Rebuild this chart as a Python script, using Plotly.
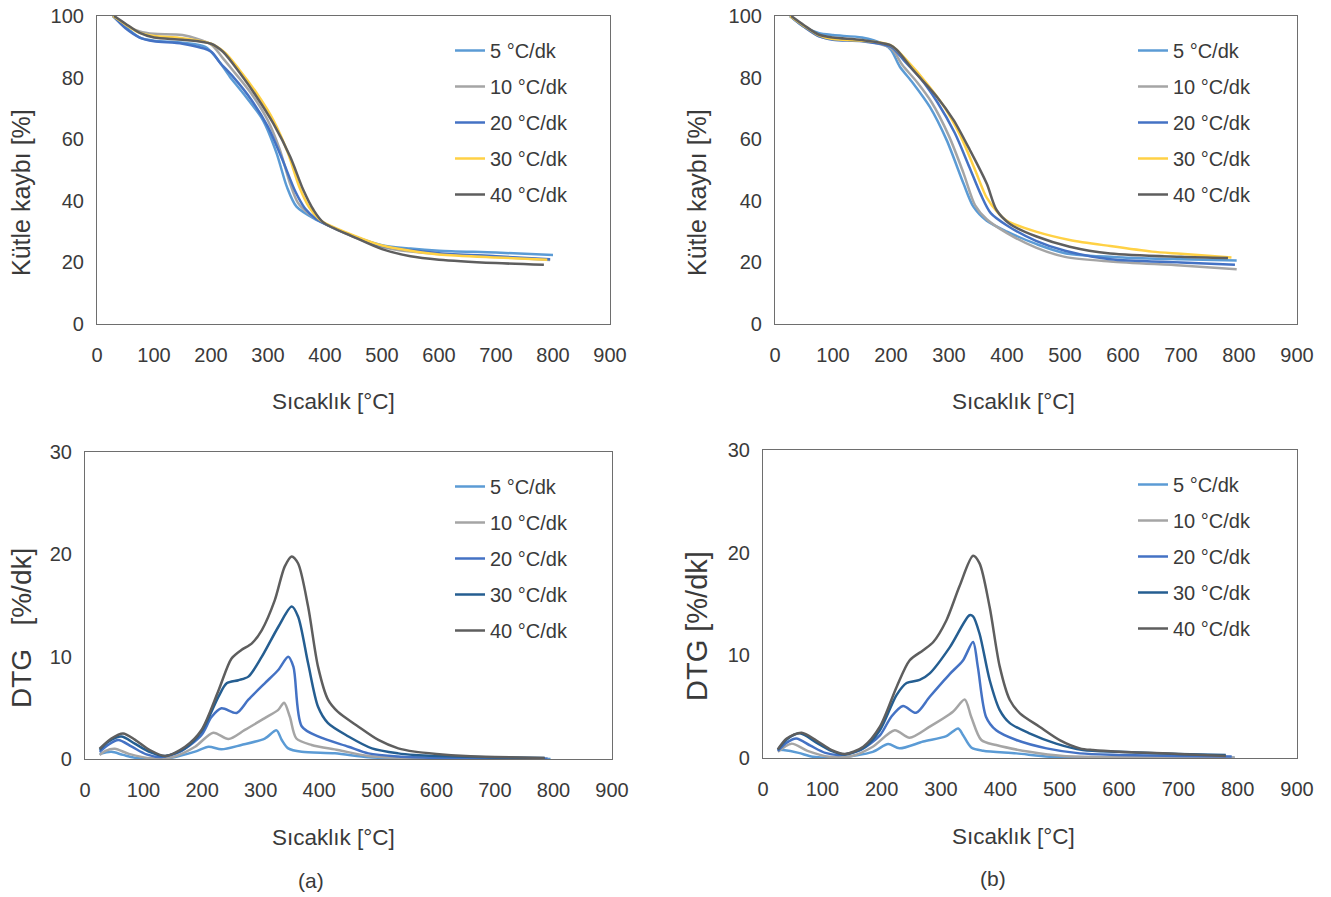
import plotly.graph_objects as go

# ---------------- data ----------------
series_names = ["5 °C/dk", "10 °C/dk", "20 °C/dk", "30 °C/dk", "40 °C/dk"]
x_ticks = [0, 100, 200, 300, 400, 500, 600, 700, 800, 900]

# TG (a)
tga_5_T = [28, 50, 75, 100, 150, 190, 210, 233, 256, 291, 315, 333, 350, 385, 400, 450, 500, 550, 600, 700, 800]
tga_5_y = [100, 96.5, 93, 92, 91.3, 90, 86.3, 80.3, 75, 66.2, 55.5, 44.6, 38.1, 33.8, 32.5, 28.5, 25.6, 24.5, 23.8, 23.2, 22.4]
tga_10_T = [28, 50, 75, 100, 150, 200, 220, 240, 270, 300, 320, 338, 352, 370, 400, 450, 500, 550, 600, 700, 795]
tga_10_y = [100, 97, 95, 94.2, 93.8, 90.8, 86.5, 82, 75, 66, 57, 46, 39.5, 36, 32.5, 28.3, 25, 23.5, 22.7, 21.8, 20.8]
tga_20_T = [28, 50, 75, 100, 150, 200, 215, 240, 270, 300, 325, 348, 365, 385, 400, 450, 500, 550, 600, 700, 795]
tga_20_y = [100, 96, 93, 91.8, 91, 88.5, 85, 80, 73, 64, 53.5, 43, 37.5, 34, 32.5, 28.5, 25.3, 24, 23, 22, 21]
tga_30_T = [28, 50, 75, 100, 150, 200, 225, 250, 280, 310, 335, 355, 372, 390, 400, 450, 500, 550, 600, 700, 790]
tga_30_y = [100, 97.3, 94.5, 93.5, 92.8, 91, 88, 82.5, 75, 66, 55.5, 44.5, 38, 34, 32.8, 28.8, 25.5, 23.8, 22.6, 21.6, 20.9]
tga_40_T = [30, 50, 75, 100, 150, 200, 221, 251, 280, 309, 339, 362, 380, 397, 450, 500, 550, 600, 700, 784]
tga_40_y = [100, 97.5, 94.5, 93, 92.3, 91, 88.4, 81.4, 73.8, 65.2, 54.3, 43.5, 37, 33, 28.3, 24.3, 22, 20.9, 19.8, 19.2]

# TG (b)
tgb_5_T = [26, 50, 75, 100, 150, 185, 200, 215, 238, 267, 296, 325, 342, 365, 400, 450, 500, 600, 700, 796]
tgb_5_y = [100, 96.5, 94.5, 93.8, 93, 91, 89, 83.6, 78.2, 70.5, 59.7, 45.6, 38.1, 33.5, 30, 26, 23, 21.6, 21, 20.6]
tgb_10_T = [26, 50, 75, 100, 150, 200, 220, 245, 270, 300, 325, 345, 365, 400, 450, 500, 578, 700, 796]
tgb_10_y = [100, 96.5, 93.5, 92.5, 92, 89.5, 84, 78.5, 72, 61, 49, 38.5, 34, 29.5, 24.8, 21.8, 20.3, 19, 17.8]
tgb_20_T = [26, 50, 75, 100, 150, 200, 225, 250, 280, 310, 335, 355, 372, 400, 450, 500, 578, 700, 793]
tgb_20_y = [100, 96.5, 93.5, 92.3, 91.8, 90, 85, 80, 72, 62, 51, 42, 36, 32, 27, 23.8, 21, 20, 19.2]
tgb_30_T = [26, 50, 75, 100, 150, 200, 230, 260, 290, 320, 345, 365, 385, 400, 450, 508, 578, 650, 700, 787]
tgb_30_y = [100, 96.8, 93.8, 92.5, 92, 90.5, 85, 78.5, 71, 61, 50, 41, 36, 33.5, 30, 27.3, 25.3, 23.5, 22.8, 21.6]
tgb_40_T = [28, 50, 75, 100, 150, 198, 210, 238, 279, 308, 336, 365, 382, 405, 451, 508, 578, 700, 781]
tgb_40_y = [100, 97, 94, 93, 92.2, 90.6, 89, 82.5, 73.8, 66.2, 56.5, 45.6, 37, 32.5, 28.4, 25.1, 22.9, 21.8, 21.4]

# DTG (a)
dtga_5_T = [25, 45, 65, 91, 140, 188, 211, 233, 267, 307, 327, 336, 347, 370, 427, 484, 550, 650, 795]
dtga_5_y = [0.5, 0.7, 0.4, 0.07, 0.05, 0.72, 1.2, 0.95, 1.37, 2.0, 2.8, 1.86, 1.04, 0.7, 0.55, 0.17, 0.05, 0.02, 0.01]
dtga_10_T = [25, 35, 51, 75, 114, 150, 188, 219, 245, 273, 307, 330, 340, 350, 361, 387, 432, 484, 550, 650, 790]
dtga_10_y = [0.4, 0.8, 1.0, 0.5, 0.07, 0.2, 1.2, 2.57, 1.95, 2.84, 4.0, 4.8, 5.5, 4.1, 2.0, 1.37, 0.88, 0.3, 0.1, 0.05, 0.02]
dtga_20_T = [25, 40, 57, 80, 105, 131, 165, 199, 216, 233, 259, 279, 307, 330, 347, 356, 370, 398, 450, 484, 535, 600, 700, 790]
dtga_20_y = [0.7, 1.4, 1.86, 1.2, 0.45, 0.2, 0.8, 2.35, 4.1, 4.95, 4.5, 5.8, 7.4, 8.7, 10.0, 9.0, 3.2, 2.2, 1.2, 0.55, 0.25, 0.12, 0.06, 0.03]
dtga_30_T = [25, 40, 62, 85, 110, 137, 170, 199, 228, 242, 262, 279, 302, 330, 353, 364, 381, 398, 415, 450, 490, 535, 563, 600, 700, 785]
dtga_30_y = [0.9, 1.7, 2.2, 1.5, 0.7, 0.3, 1.0, 2.7, 6.1, 7.4, 7.7, 8.05, 10.0, 12.9, 14.9, 13.9, 9.35, 5.1, 3.5, 2.2, 1.04, 0.55, 0.4, 0.3, 0.15, 0.1]
dtga_40_T = [25, 45, 65, 85, 110, 137, 171, 199, 228, 250, 267, 285, 302, 324, 341, 353, 364, 381, 398, 415, 432, 467, 501, 535, 563, 600, 650, 700, 785]
dtga_40_y = [1.0, 2.0, 2.5, 1.9, 0.9, 0.3, 1.2, 2.84, 6.7, 9.8, 10.65, 11.3, 12.6, 15.5, 18.8, 19.8, 19.1, 14.9, 9.0, 5.8, 4.6, 3.16, 1.86, 1.04, 0.72, 0.5, 0.3, 0.2, 0.1]

# DTG (b)
dtgb_5_T = [25, 34, 60, 84, 130, 185, 211, 230, 270, 309, 329, 337, 351, 371, 427, 483, 550, 700, 795]
dtgb_5_y = [0.8, 0.77, 0.5, 0.12, 0.05, 0.6, 1.36, 0.94, 1.6, 2.13, 2.88, 2.24, 1.03, 0.71, 0.45, 0.12, 0.05, 0.03, 0.02]
dtgb_10_T = [25, 48, 75, 112, 150, 185, 222, 247, 281, 320, 340, 351, 368, 393, 449, 506, 600, 700, 795]
dtgb_10_y = [0.6, 1.4, 0.7, 0.12, 0.2, 1.1, 2.7, 1.97, 3.05, 4.5, 5.7, 4.0, 1.75, 1.26, 0.6, 0.19, 0.1, 0.08, 0.05]
dtgb_20_T = [25, 40, 56, 80, 105, 129, 165, 197, 216, 236, 258, 281, 315, 337, 354, 362, 376, 393, 427, 478, 534, 600, 700, 790]
dtgb_20_y = [0.7, 1.5, 1.9, 1.2, 0.5, 0.3, 0.8, 2.2, 4.0, 5.06, 4.4, 5.97, 8.2, 9.5, 11.3, 8.9, 4.0, 2.7, 1.75, 0.94, 0.45, 0.3, 0.2, 0.15]
dtgb_30_T = [25, 40, 62, 90, 115, 138, 170, 197, 225, 242, 264, 281, 315, 348, 354, 365, 382, 399, 416, 449, 494, 539, 600, 700, 780]
dtgb_30_y = [0.8, 1.8, 2.4, 1.5, 0.7, 0.35, 1.0, 2.7, 6.13, 7.3, 7.6, 8.24, 10.8, 13.9, 13.8, 12.1, 7.6, 4.67, 3.4, 2.4, 1.4, 0.77, 0.6, 0.4, 0.3]
dtgb_40_T = [25, 40, 65, 90, 115, 138, 169, 197, 225, 247, 270, 287, 309, 331, 354, 365, 382, 399, 416, 433, 466, 500, 534, 556, 600, 700, 780]
dtgb_40_y = [0.84, 1.9, 2.46, 1.7, 0.8, 0.39, 1.1, 3.05, 6.9, 9.5, 10.5, 11.3, 13.4, 16.7, 19.7, 18.96, 14.7, 8.9, 5.65, 4.35, 3.05, 1.75, 0.94, 0.77, 0.6, 0.4, 0.2]

# ---------------- styling ----------------
W, H = 1331, 897
OFF = 0  # body margin removed by post_script
FONT = "Liberation Sans, Arial, sans-serif"
TXT = "#3a3a3a"
tg_colors = ["#5B9BD5", "#A5A5A5", "#4472C4", "#FFD145", "#5e5e5e"]
dtg_colors = ["#5B9BD5", "#A5A5A5", "#4472C4", "#255E91", "#5e5e5e"]

def px(x):
    return (x - OFF) / W

def py(y):
    return 1 - (y - OFF) / H

panels = [
    ([tga_5_T, tga_10_T, tga_20_T, tga_30_T, tga_40_T], [tga_5_y, tga_10_y, tga_20_y, tga_30_y, tga_40_y],
     tg_colors, "x", "y", "legend", (97, 610, 16, 324), 100, 20),
    ([tgb_5_T, tgb_10_T, tgb_20_T, tgb_30_T, tgb_40_T], [tgb_5_y, tgb_10_y, tgb_20_y, tgb_30_y, tgb_40_y],
     tg_colors, "x2", "y2", "legend2", (775, 1297, 16, 324), 100, 20),
    ([dtga_5_T, dtga_10_T, dtga_20_T, dtga_30_T, dtga_40_T], [dtga_5_y, dtga_10_y, dtga_20_y, dtga_30_y, dtga_40_y],
     dtg_colors, "x3", "y3", "legend3", (85, 612, 452, 759), 30, 10),
    ([dtgb_5_T, dtgb_10_T, dtgb_20_T, dtgb_30_T, dtgb_40_T], [dtgb_5_y, dtgb_10_y, dtgb_20_y, dtgb_30_y, dtgb_40_y],
     dtg_colors, "x4", "y4", "legend4", (763, 1297, 450, 758), 30, 10),
]

fig = go.Figure()
layout = dict(
    template="none",
    width=W, height=H, margin=dict(l=0, r=0, t=0, b=0, autoexpand=False),
    paper_bgcolor="white", plot_bgcolor="white",
    font=dict(family=FONT, size=20, color=TXT),
    showlegend=True,
)

legend_pos = {"legend": (450, 31), "legend2": (1133, 31), "legend3": (450, 467), "legend4": (1133, 465)}

for pi, (xs, ys, cols, xa, ya, lg, box, ymax, dt) in enumerate(panels):
    for si in range(5):
        fig.add_trace(go.Scatter(
            x=xs[si], y=ys[si], mode="lines", name=series_names[si],
            line=dict(color=cols[si], width=2.5, shape="spline", smoothing=0.8),
            xaxis=xa, yaxis=ya, legend=lg, legendgroup=f"{lg}_{si}",
            hoverinfo="skip",
        ))
    l, r, t, b = box
    xkey = "xaxis" if xa == "x" else "xaxis" + xa[1:]
    ykey = "yaxis" if ya == "y" else "yaxis" + ya[1:]
    layout[xkey] = dict(domain=[px(l), px(r)], range=[0, 900], tickvals=x_ticks, anchor=ya,
                        automargin=False, ticklabeloverflow="allow",
                        showline=True, mirror=True, linecolor="#6e6e6e", linewidth=1.2,
                        showgrid=False, zeroline=False, ticks="", ticklabelstandoff=13,
                        tickfont=dict(size=20, color=TXT, family=FONT))
    layout[ykey] = dict(domain=[py(b), py(t)], range=[0, ymax], dtick=dt, anchor=xa,
                        automargin=False, ticklabeloverflow="allow",
                        showline=True, mirror=True, linecolor="#6e6e6e", linewidth=1.2,
                        showgrid=False, zeroline=False, ticks="", ticklabelstandoff=8,
                        tickfont=dict(size=20, color=TXT, family=FONT))
    lx, ly = legend_pos[lg]
    layout[lg] = dict(x=px(lx), y=py(ly), xanchor="left", yanchor="top",
                      bgcolor="rgba(0,0,0,0)", borderwidth=0, itemwidth=30,
                      traceorder="grouped", tracegroupgap=7,
                      font=dict(size=20, color=TXT, family=FONT))

fig.update_layout(**layout)

annos = [
    ("Sıcaklık [°C]", 333, 401, 0, 22.5),
    ("Sıcaklık [°C]", 1013, 401, 0, 22.5),
    ("Sıcaklık [°C]", 333, 837, 0, 22.5),
    ("Sıcaklık [°C]", 1013, 836, 0, 22.5),
    ("Kütle kaybı [%]", 21, 193, -90, 25),
    ("Kütle kaybı [%]", 697, 193, -90, 25),
    ("DTG\u00a0\u00a0\u00a0[%/dk]", 21, 628, -90, 28),
    ("DTG [%/dk]", 697, 626, -90, 29),
    ("(a)", 311, 880, 0, 21),
    ("(b)", 993, 878, 0, 21),
]
for text, x, y, ang, fs in annos:
    fig.add_annotation(text=text, x=px(x), y=py(y), xref="paper", yref="paper",
                       xanchor="center", yanchor="middle", showarrow=False, textangle=ang,
                       font=dict(size=fs, color=TXT, family=FONT))

fig.write_html("out.html", config={"displayModeBar": False},
               post_script="document.body.style.margin='0px';")
